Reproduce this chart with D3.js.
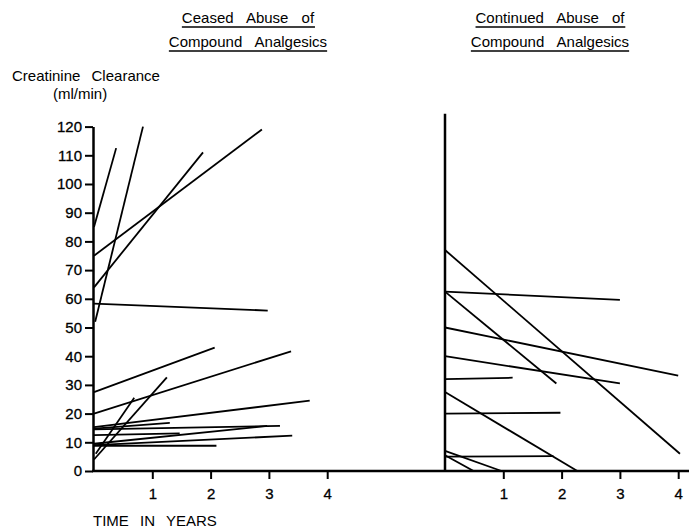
<!DOCTYPE html>
<html>
<head>
<meta charset="utf-8">
<script src="https://cdn.jsdelivr.net/npm/d3@7"></script>
<style>
  body { margin: 0; background: #fff; }
  svg text { font-family: "Liberation Sans", Arial, Helvetica, sans-serif; fill: #000; }
</style>
</head>
<body>
<script>
// creatinine clearance (ml/min) per patient: [year start, value start, year end, value end]
const ceasedLines = [
  [0.00, 85.0, 0.38, 112.5],
  [0.02, 52.0, 0.84, 120.0],
  [0.00, 75.0, 2.88, 119.0],
  [0.00, 64.0, 1.87, 111.0],
  [0.00, 58.3, 2.98, 55.9],
  [0.00, 27.5, 2.07, 43.0],
  [0.00, 20.0, 3.38, 41.7],
  [0.00, 4.0, 1.25, 32.6],
  [0.03, 6.0, 0.69, 25.5],
  [0.00, 15.3, 3.70, 24.5],
  [0.00, 14.8, 1.30, 16.8],
  [0.00, 14.5, 3.19, 15.7],
  [0.00, 9.5, 2.97, 15.7],
  [0.00, 12.5, 1.47, 13.1],
  [0.00, 9.0, 3.40, 12.3],
  [0.00, 8.8, 2.10, 8.8]
];
const continuedLines = [
  [0.00, 77.0, 4.03, 6.0],
  [0.00, 62.5, 3.00, 59.6],
  [0.00, 62.5, 1.91, 30.5],
  [0.00, 50.0, 4.00, 33.2],
  [0.00, 40.0, 3.00, 30.5],
  [0.00, 32.0, 1.16, 32.5],
  [0.00, 27.5, 2.27, 0.0],
  [0.00, 20.0, 1.98, 20.3],
  [0.00, 5.0, 1.86, 5.2],
  [0.00, 7.0, 0.97, 0.0],
  [0.00, 5.5, 0.49, 0.0]
];
const yTicks = [0, 10, 20, 30, 40, 50, 60, 70, 80, 90, 100, 110, 120];
const xTicks = [1, 2, 3, 4];
const leftTitle = ["Ceased Abuse of", "Compound Analgesics"];
const rightTitle = ["Continued Abuse of", "Compound Analgesics"];

const width = 689, height = 530;

const svg = d3.select("body").append("svg")
  .attr("width", width).attr("height", height);

const y = d3.scaleLinear().domain([0, 120]).range([471, 126.6]);
const xL = d3.scaleLinear().domain([0, 4]).range([94, 94 + 4 * 58.3]);
const xR = d3.scaleLinear().domain([0, 4]).range([445, 445 + 4 * 58.3]);

// titles, underlined
function title(lines, cx) {
  lines.forEach((t, i) => {
    const txt = svg.append("text")
      .attr("x", cx).attr("y", 23 + i * 23.5)
      .attr("text-anchor", "middle")
      .style("font-size", "15px")
      .style("word-spacing", "9px")
      .text(t);
    const bb = txt.node().getBBox();
    svg.append("line")
      .attr("x1", bb.x).attr("x2", bb.x + bb.width)
      .attr("y1", 27 + i * 24).attr("y2", 27 + i * 24)
      .attr("stroke", "#000").attr("stroke-width", 1.3);
  });
}
title(leftTitle, 248);
title(rightTitle, 550);

svg.append("text").attr("x", 12).attr("y", 81)
  .style("font-size", "15px").style("word-spacing", "7px")
  .text("Creatinine Clearance");
svg.append("text").attr("x", 53).attr("y", 99)
  .style("font-size", "15px")
  .text("(ml/min)");
svg.append("text").attr("x", 93).attr("y", 526)
  .style("font-size", "15px").style("word-spacing", "7px")
  .text("TIME IN YEARS");

// y axis
const ya = svg.append("g").attr("transform", `translate(${xL(0) - 1},0)`)
  .call(d3.axisLeft(y).tickValues(yTicks).tickSize(8).tickSizeOuter(0).tickPadding(3));
ya.select(".domain").attr("stroke-width", 2.5);
ya.selectAll(".tick line").attr("stroke-width", 2);
ya.selectAll(".tick text").style("font-size", "15px").attr("font-family", null)
  .attr("stroke", "#000").attr("stroke-width", 0.3);

// right panel vertical line
svg.append("line")
  .attr("x1", xR(0)).attr("x2", xR(0))
  .attr("y1", y(124.5)).attr("y2", y(0))
  .attr("stroke", "#000").attr("stroke-width", 2.5);

// baseline across both panels
svg.append("line")
  .attr("x1", xL(0) - 2).attr("x2", width)
  .attr("y1", y(0)).attr("y2", y(0))
  .attr("stroke", "#000").attr("stroke-width", 2.5);

[xL, xR].forEach(sc => {
  const g = svg.append("g").attr("transform", `translate(0,${y(0)})`)
    .call(d3.axisBottom(sc).tickValues(xTicks).tickSize(8).tickPadding(9).tickFormat(d3.format("d")));
  g.select(".domain").remove();
  g.selectAll(".tick line").attr("stroke-width", 2);
  g.selectAll(".tick text").style("font-size", "15px").attr("font-family", null)
    .attr("stroke", "#000").attr("stroke-width", 0.3);
});

// patient lines
function drawLines(data, sc) {
  svg.append("g").selectAll("line").data(data).join("line")
    .attr("x1", d => sc(d[0])).attr("y1", d => y(d[1]))
    .attr("x2", d => sc(d[2])).attr("y2", d => y(d[3]))
    .attr("stroke", "#000").attr("stroke-width", 1.8);
}
drawLines(ceasedLines, xL);
drawLines(continuedLines, xR);
</script>
</body>
</html>
